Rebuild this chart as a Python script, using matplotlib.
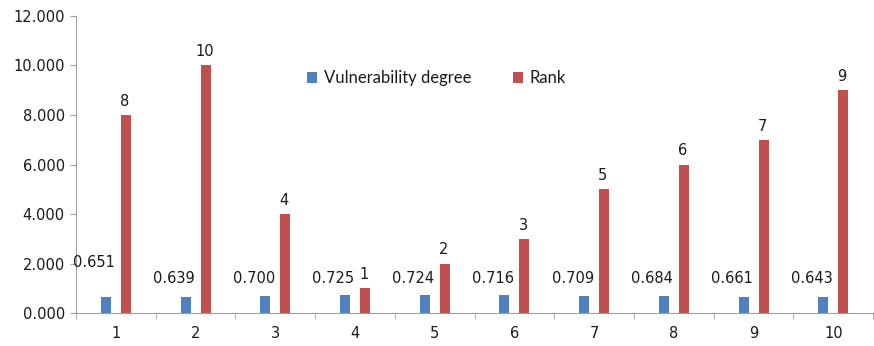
import numpy as np
import matplotlib.pyplot as plt

categories = ['1', '2', '3', '4', '5', '6', '7', '8', '9', '10']
vulnerability = [0.651, 0.639, 0.700, 0.725, 0.724, 0.716, 0.709, 0.684, 0.661, 0.643]
rank = [8, 10, 4, 1, 2, 3, 5, 6, 7, 9]

blue = '#4F81BD'
red = '#C0504D'
axis_grey = '#A0A0A0'
txt = '#1a1a1a'

fig = plt.figure(figsize=(8.74, 3.46), dpi=100)
ax = fig.add_axes([0.087, 0.095, 0.912, 0.859])

x = np.arange(len(categories))
w = 0.125
ax.bar(x - 0.125, vulnerability, w, color=blue, label='Vulnerability degree')
ax.bar(x + 0.125, rank, w, color=red, label='Rank')

# value labels: degree values sit low and to the left, ranks above the red bars
for i, v in enumerate(vulnerability):
    ypos = 2.05 if i == 0 else 1.41
    ax.text(x[i] - 0.27, ypos, f'{v:.3f}', ha='center', va='center',
            fontsize=10.5, color=txt)
for i, r in enumerate(rank):
    ax.text(x[i] + 0.11, r + 0.55, str(r), ha='center', va='center',
            fontsize=10.5, color=txt)

ax.set_xlim(-0.5, len(categories) - 0.5)
ax.set_ylim(0, 12)
ax.set_yticks(np.arange(0, 12.1, 2))
ax.set_yticklabels([f'{t:.3f}' for t in np.arange(0, 12.1, 2)])
ax.set_xticks(x)
ax.set_xticklabels(categories)
ax.set_xticks(np.arange(-0.5, len(categories), 1), minor=True)
ax.tick_params(axis='x', which='major', length=0, pad=9, labelsize=10.5, labelcolor=txt)
ax.tick_params(axis='x', which='minor', length=4, color=axis_grey, direction='out')
ax.tick_params(axis='y', length=4, color=axis_grey, labelsize=10.5, pad=4, labelcolor=txt)
for s in ['top', 'right']:
    ax.spines[s].set_visible(False)
for s in ['left', 'bottom']:
    ax.spines[s].set_color(axis_grey)

leg = ax.legend(loc='center', bbox_to_anchor=(0.452, 0.79), ncol=2, frameon=False,
                handlelength=0.6, handleheight=0.6, columnspacing=2.5, handletextpad=0.4,
                prop={'family': 'Lato', 'size': 12})
for t in leg.get_texts():
    t.set_color(txt)

fig.savefig('out.png', dpi=100)
